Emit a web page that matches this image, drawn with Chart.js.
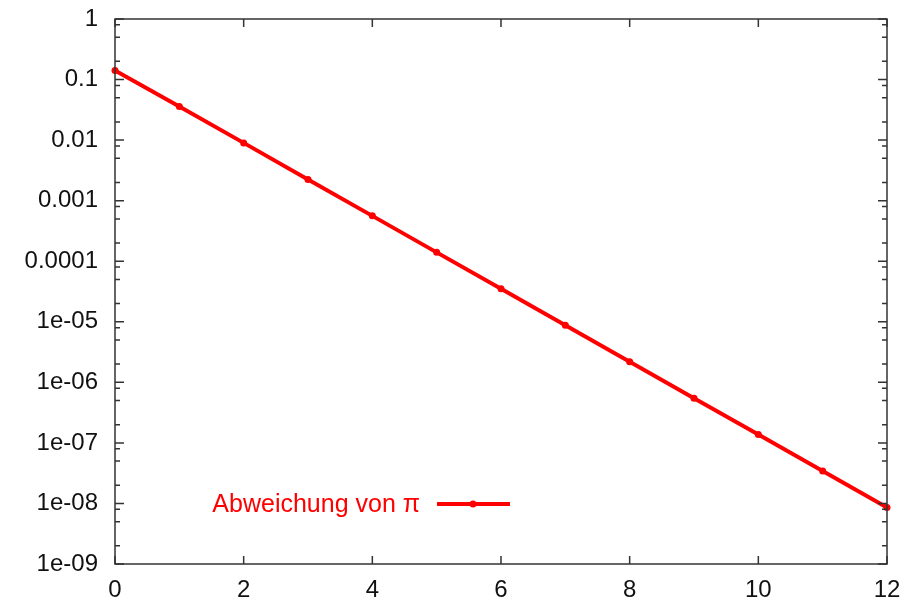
<!DOCTYPE html>
<html>
<head>
<meta charset="utf-8">
<script src="https://cdn.jsdelivr.net/npm/chart.js@4/dist/chart.umd.min.js"></script>
<style>
  html, body { margin: 0; padding: 0; background: #fff; }
  #wrap { width: 908px; height: 600px; }
</style>
</head>
<body>
<div id="wrap"><canvas id="c" width="908" height="600"></canvas></div>
<script>
// Data
const xValues = [0, 1, 2, 3, 4, 5, 6, 7, 8, 9, 10, 11, 12];
const deviation = [0.1416, 0.0358, 0.00900, 0.00224, 0.000561, 0.000140, 3.51e-5, 8.76e-6, 2.19e-6, 5.48e-7, 1.37e-7, 3.42e-8, 8.56e-9];
const seriesLabel = 'Abweichung von π';
const yTickValues = [1, 0.1, 0.01, 0.001, 0.0001, 1e-5, 1e-6, 1e-7, 1e-8, 1e-9];
const yTickLabels = ['1', '0.1', '0.01', '0.001', '0.0001', '1e-05', '1e-06', '1e-07', '1e-08', '1e-09'];
const yMinorFactors = [2, 5, 8];
const xTickValues = [0, 2, 4, 6, 8, 10, 12];

const FONT = 'Liberation Sans, Arial, sans-serif';
const AXIS_COLOR = '#333333';

const framePlugin = {
  id: 'frame',
  afterDraw(chart) {
    const ctx = chart.ctx;
    const a = chart.chartArea;
    const xs = chart.scales.x, ys = chart.scales.y;
    ctx.save();
    ctx.strokeStyle = AXIS_COLOR;
    ctx.lineWidth = 1.5;
    ctx.strokeRect(a.left, a.top, a.right - a.left, a.bottom - a.top);
    ctx.beginPath();
    yTickValues.forEach(v => {
      const y = ys.getPixelForValue(v);
      ctx.moveTo(a.left, y); ctx.lineTo(a.left + 9, y);
      ctx.moveTo(a.right, y); ctx.lineTo(a.right - 9, y);
      if (v < 1) {
        yMinorFactors.forEach(f => {
          const yy = ys.getPixelForValue(v * f);
          ctx.moveTo(a.left, yy); ctx.lineTo(a.left + 5, yy);
          ctx.moveTo(a.right, yy); ctx.lineTo(a.right - 5, yy);
        });
      }
    });
    xTickValues.forEach(v => {
      const x = xs.getPixelForValue(v);
      ctx.moveTo(x, a.bottom); ctx.lineTo(x, a.bottom - 8);
      ctx.moveTo(x, a.top); ctx.lineTo(x, a.top + 8);
    });
    ctx.stroke();
    ctx.restore();
  }
};

const keyPlugin = {
  id: 'key',
  afterDatasetsDraw(chart) {
    const ctx = chart.ctx;
    const a = chart.chartArea;
    const ds = chart.data.datasets[0];
    const textRight = a.left + 305;
    const y = a.top + 485;
    ctx.save();
    ctx.fillStyle = ds.borderColor;
    ctx.font = '25px ' + FONT;
    ctx.textAlign = 'right';
    ctx.textBaseline = 'middle';
    ctx.fillText(ds.label, textRight, y + 1);
    ctx.strokeStyle = ds.borderColor;
    ctx.lineWidth = ds.borderWidth;
    ctx.beginPath();
    ctx.moveTo(textRight + 17, y);
    ctx.lineTo(textRight + 90, y);
    ctx.stroke();
    ctx.beginPath();
    ctx.arc(textRight + 53, y, ds.pointRadius, 0, Math.PI * 2);
    ctx.fill();
    ctx.restore();
  }
};

new Chart(document.getElementById('c'), {
  type: 'line',
  data: {
    datasets: [{
      label: seriesLabel,
      data: xValues.map((x, i) => ({ x: x, y: deviation[i] })),
      borderColor: '#ff0000',
      backgroundColor: '#ff0000',
      borderWidth: 4,
      pointRadius: 3.5,
      pointHoverRadius: 3.5,
      pointBackgroundColor: '#ff0000',
      pointBorderWidth: 0,
      tension: 0,
      clip: false
    }]
  },
  options: {
    responsive: false,
    animation: false,
    events: [],
    layout: { padding: { top: 19, right: 21, left: 0, bottom: 0 } },
    plugins: { legend: { display: false }, tooltip: { enabled: false } },
    scales: {
      x: {
        type: 'linear',
        min: 0, max: 12,
        afterBuildTicks(scale) { scale.ticks = xTickValues.map(v => ({ value: v })); },
        afterFit(scale) { scale.height = 36; scale.paddingLeft = 0; scale.paddingRight = 0; },
        grid: { display: false, drawTicks: false },
        border: { display: false },
        ticks: {
          color: '#111',
          font: { family: FONT, size: 24 },
          padding: 12,
          maxRotation: 0,
          autoSkip: false
        }
      },
      y: {
        type: 'logarithmic',
        min: 1e-9, max: 1,
        afterBuildTicks(scale) { scale.ticks = yTickValues.map(v => ({ value: v })); },
        afterFit(scale) { scale.width = 115; scale.paddingTop = 0; scale.paddingBottom = 0; },
        grid: { display: false, drawTicks: false },
        border: { display: false },
        ticks: {
          color: '#111',
          font: { family: FONT, size: 24 },
          padding: 17,
          autoSkip: false,
          callback(value) {
            const i = yTickValues.findIndex(v => Math.abs(Math.log10(v) - Math.log10(value)) < 1e-6);
            return i >= 0 ? yTickLabels[i] : '';
          }
        }
      }
    }
  },
  plugins: [framePlugin, keyPlugin]
});
</script>
</body>
</html>
